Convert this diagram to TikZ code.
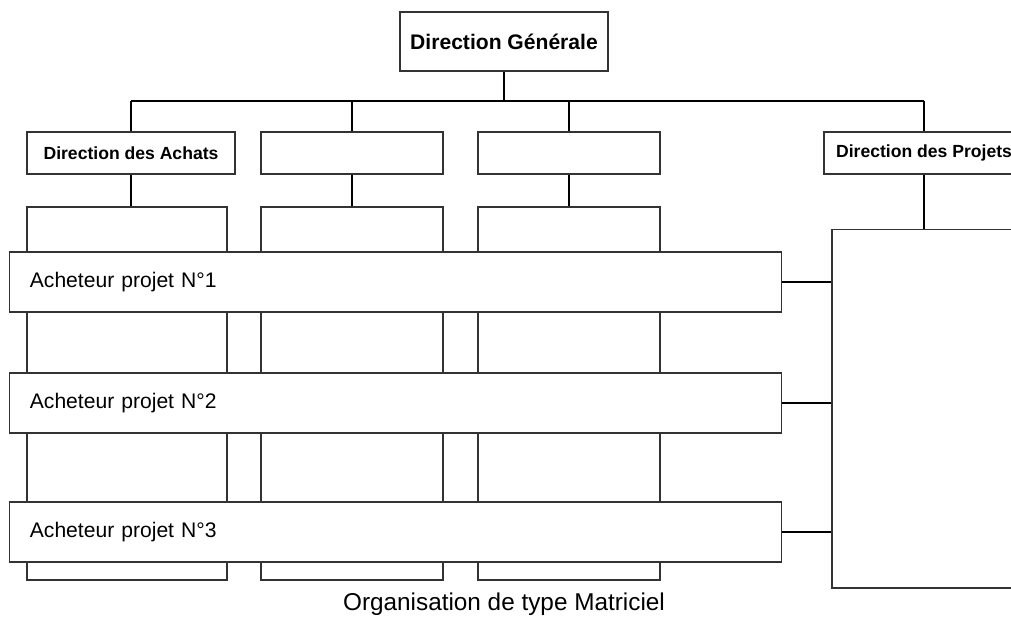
\documentclass[tikz,border=0pt]{standalone}
\usepackage{fontspec}
\setmainfont{Liberation Sans}
\tikzset{
  caja/.style={draw=black!80, line width=0.8pt, fill=white, rectangle, inner sep=0pt},
  jefe/.style={caja, font=\bfseries\fontsize{12.5}{14}\selectfont},
  comprador/.style={caja, minimum width=19.275cm, minimum height=1.5cm, text width=18.275cm, align=left, font=\fontsize{15}{17}\selectfont},
  linea/.style={line width=0.75pt},
  gruesa/.style={line width=1.3pt}
}
\begin{document}
\begin{tikzpicture}[x=0.025cm, y=-0.025cm]
            % Marco del dibujo
            \useasboundingbox (0,0) rectangle (1011,635);
            \clip (0,0) rectangle (1011,635);

            % Direccion general y su linea
            \node[caja, minimum width=5.2cm, minimum height=1.475cm, font=\bfseries\fontsize{15}{17}\selectfont] (dg) at (504,41.5) {Direction Générale};
            \coordinate (bus) at (504,101); % Punto donde baja la linea principal

            % Direcciones del segundo nivel
            \node[jefe, minimum width=5.2cm, minimum height=1.05cm] (achats) at (131,153) {Direction des Achats};
            \node[jefe, minimum width=4.55cm, minimum height=1.05cm] (d2) at (352,153) {};
            \node[jefe, minimum width=4.55cm, minimum height=1.05cm] (d3) at (569,153) {};
            \node[jefe, minimum width=5cm, minimum height=1.05cm] (projets) at (924,153) {Direction des Projets};

            % Columnas de los servicios
            \node[caja, minimum width=5cm, minimum height=9.325cm] (c1) at (127,393.5) {};
            \node[caja, minimum width=4.55cm, minimum height=9.325cm] (c2) at (352,393.5) {};
            \node[caja, minimum width=4.55cm, minimum height=9.325cm] (c3) at (569,393.5) {};

            % Gran caja de proyectos
            \node[caja, minimum width=4.6cm, minimum height=8.9625cm] (grand) at (924,408.75) {};

            % Compradores de proyecto (encima de las columnas)
            \node[comprador] (a1) at (395.5,282) {Acheteur projet N°1};
            \node[comprador] (a2) at (395.5,403) {Acheteur projet N°2};
            \node[comprador] (a3) at (395.5,532) {Acheteur projet N°3};

            % Lineas del organigrama
            \draw[gruesa] (dg.south) -- (bus); % Baja desde la direccion general
            \draw[linea] (achats.north |- bus) -- (projets.north |- bus); % Linea horizontal
            \draw[linea] (achats.north |- bus) -- (achats.north);
            \draw[linea] (d2.north |- bus) -- (d2.north);
            \draw[linea] (d3.north |- bus) -- (d3.north);
            \draw[linea] (projets.north |- bus) -- (projets.north);

            % Lineas hacia las columnas
            \draw[linea] (achats.south) -- (achats.south |- c1.north);
            \draw[gruesa] (d2.south) -- (c2.north);
            \draw[gruesa] (d3.south) -- (c3.north);
            \draw[linea] (projets.south) -- (grand.north);

            % Lineas de los compradores a los proyectos
            \draw[linea] (a1.east) -- (a1.east -| grand.west);
            \draw[gruesa] (a2.east) -- (a2.east -| grand.west);
            \draw[linea] (a3.east) -- (a3.east -| grand.west);

            % Titulo
            \node[font=\fontsize{17.3}{20}\selectfont] (titulo) at (504,604) {Organisation de type Matriciel};
        \end{tikzpicture}
\end{document}
